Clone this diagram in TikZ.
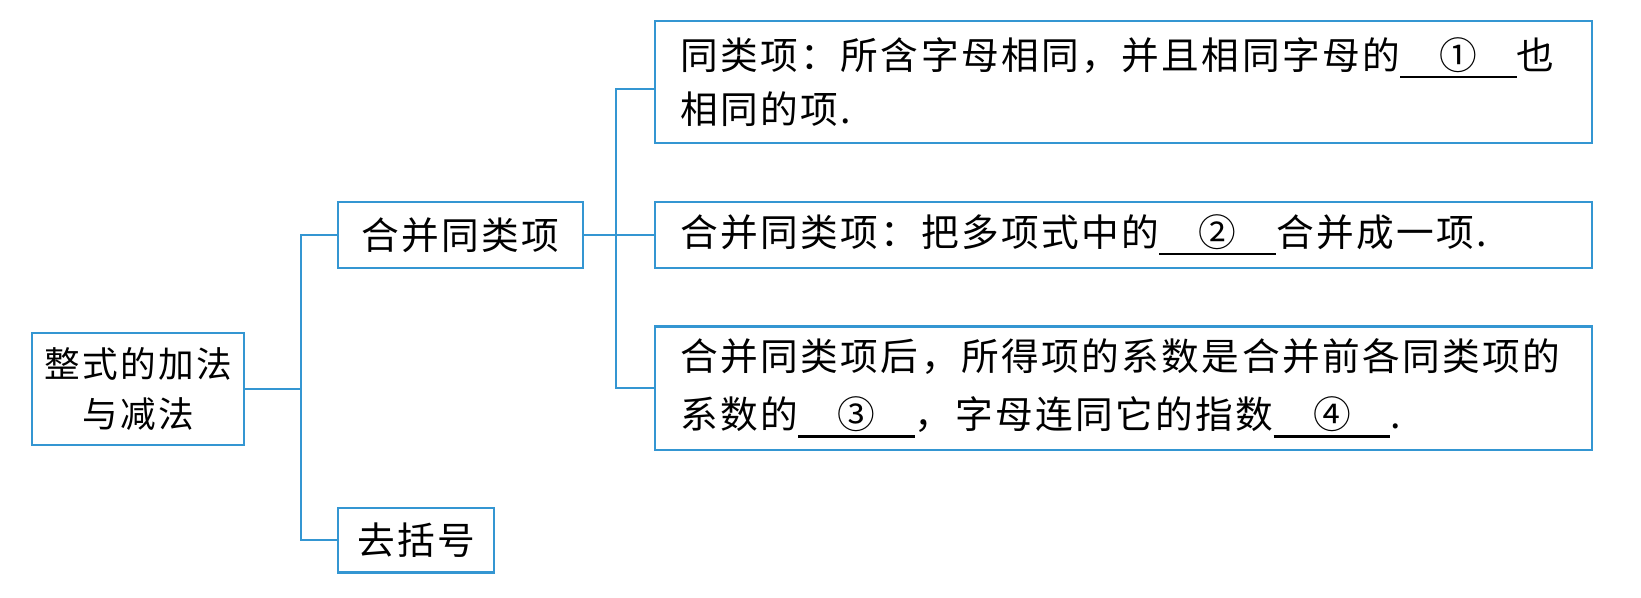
\documentclass[tikz,border=0pt]{standalone}
\usepackage{fontspec}
\setmainfont{Noto Sans CJK SC}[LetterSpace=6.5]
\newcommand\blk[1]{\rlap{\rule[-0.24em]{3.1em}{2.2pt}}\makebox[3.1em]{#1}}
\definecolor{lineblue}{RGB}{52,150,210}
\tikzset{
  box/.style={draw=lineblue, line width=2pt, inner sep=0pt, minimum height=#1},
  conn/.style={draw=lineblue, line width=2pt},
  txt/.style={font=\fontsize{36}{52}\selectfont}
}
\begin{document}
\begin{tikzpicture}[x=1pt,y=1pt]
\useasboundingbox (0,0) rectangle (1568,571);
% root
\node[box=107pt, minimum width=202pt, align=center, font=\fontsize{34}{48}\selectfont] (root) at (132,199.5) {整式的加法\\与减法};
% level 2
\node[box=63pt, minimum width=234pt, txt] (hb) at (440,346.5) {合并同类项};
\node[box=62pt, minimum width=149pt, txt] (qk) at (397.5,55) {去括号};
% level 3
\node[box=117pt, minimum width=895pt, text width=847pt, align=left, txt] (b1) at (1073.5,492.5)
  {同类项：所含字母相同，并且相同字母的\blk{①}也\\相同的项.};
\node[box=63pt, minimum width=895pt, text width=847pt, align=left, txt] (b2) at (1073.5,346.5)
  {合并同类项：把多项式中的\blk{②}合并成一项.};
\node[box=118pt, minimum width=895pt, text width=847pt, align=left, font=\fontsize{36}{55}\selectfont] (b3) at (1073.5,200)
  {合并同类项后，所得项的系数是合并前各同类项的\\系数的\blk{③}，字母连同它的指数\blk{④}.};
% connectors
\coordinate (j1) at (288,199.5);
\coordinate (j2) at (589,346.5);
\draw[conn] (root.east) -- (j1);
\draw[conn] (hb.west) -| (j1) |- (qk.west);
\draw[conn] (hb.east) -- (j2);
\draw[conn] ([yshift=-6.5pt]b1.west) -| (j2) |- (b3.west);
\draw[conn] (j2) -- (b2.west);
\end{tikzpicture}
\end{document}
